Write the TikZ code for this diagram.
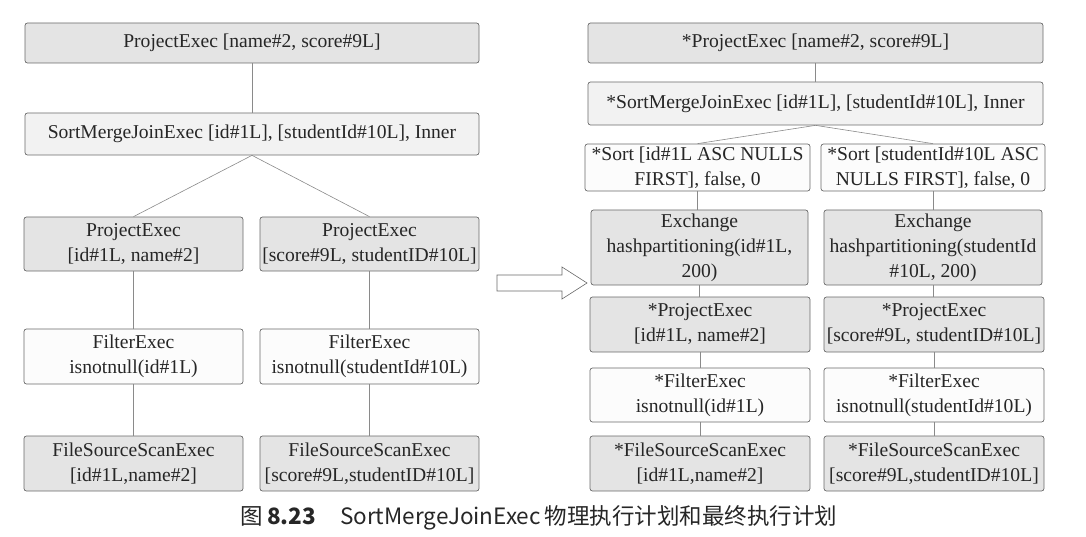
\documentclass[tikz,border=0pt]{standalone}
\usepackage{fontspec}
\setmainfont{Liberation Serif}
\newfontfamily\cjk{Noto Sans CJK SC}
\definecolor{boxdark}{HTML}{E4E4E4}
\definecolor{boxlight}{HTML}{F2F2F2}
\definecolor{boxwhite}{HTML}{FCFCFC}
\definecolor{edge}{HTML}{6A6A6A}
\definecolor{link}{HTML}{8A8A8A}
\begin{document}
\begin{tikzpicture}[x=1pt,y=-1pt,
  plan/.style={draw=edge,line width=0.7pt,rounded corners=2.5pt,inner sep=0pt,
    align=center,font=\fontsize{19.6}{25}\selectfont,text=black!85},
  dark/.style={plan,fill=boxdark},
  light/.style={plan,fill=boxlight},
  white/.style={plan,fill=boxwhite},
  link/.style={draw=link,line width=0.6pt}]
\useasboundingbox (0,0) rectangle (1086,537);
% ---- left plan ----
\node[dark,minimum width=454,minimum height=40] (L1) at (252,43) {ProjectExec [name\#2, score\#9L]};
\node[light,minimum width=454,minimum height=42] (L2) at (252,134) {SortMergeJoinExec [id\#1L], [studentId\#10L], Inner};
\node[dark,minimum width=219,minimum height=54] (L3) at (133.5,244) {ProjectExec\\{[}id\#1L, name\#2]};
\node[dark,minimum width=219,minimum height=54] (L4) at (369.5,244) {ProjectExec\\{[}score\#9L, studentID\#10L]};
\node[white,minimum width=219,minimum height=55] (L5) at (133.5,356.5) {FilterExec\\isnotnull(id\#1L)};
\node[white,minimum width=219,minimum height=55] (L6) at (369.5,356.5) {FilterExec\\isnotnull(studentId\#10L)};
\node[dark,minimum width=219,minimum height=55] (L7) at (133.5,463.5) {FileSourceScanExec\\{[}id\#1L,name\#2]};
\node[dark,minimum width=219,minimum height=55] (L8) at (369.5,463.5) {FileSourceScanExec\\{[}score\#9L,studentID\#10L]};
\draw[link] (L1.south) -- (L2.north);
\draw[link] (L2.south) -- (L3.north);
\draw[link] (L2.south) -- (L4.north);
\draw[link] (L3) -- (L5);
\draw[link] (L5) -- (L7);
\draw[link] (L4) -- (L6);
\draw[link] (L6) -- (L8);
% ---- arrow ----
\draw[draw=edge,line width=0.6pt,fill=white,line join=miter]
  (497,275) -- (562,275) -- (562,267) -- (587,283) -- (562,299) -- (562,291) -- (497,291) -- cycle;
% ---- right plan ----
\node[dark,minimum width=455,minimum height=40] (R1) at (815.5,43) {*ProjectExec [name\#2, score\#9L]};
\node[light,minimum width=455,minimum height=43] (R2) at (815.5,103.5) {*SortMergeJoinExec [id\#1L], [studentId\#10L], Inner};
\node[white,minimum width=225,minimum height=47] (R3) at (697.5,167.5) {*Sort [id\#1L ASC NULLS\\FIRST], false, 0};
\node[white,minimum width=224,minimum height=47] (R4) at (933,167.5) {*Sort [studentId\#10L ASC\\NULLS FIRST], false, 0};
\node[dark,minimum width=217,minimum height=75] (R5) at (699.5,247.5) {Exchange\\hashpartitioning(id\#1L,\\200)};
\node[dark,minimum width=218,minimum height=75] (R6) at (933,247.5) {Exchange\\hashpartitioning(studentId\\\#10L, 200)};
\node[dark,minimum width=220,minimum height=55] (R7) at (700,324.5) {*ProjectExec\\{[}id\#1L, name\#2]};
\node[dark,minimum width=220,minimum height=55] (R8) at (934,324.5) {*ProjectExec\\{[}score\#9L, studentID\#10L]};
\node[white,minimum width=220,minimum height=54] (R9) at (700,395) {*FilterExec\\isnotnull(id\#1L)};
\node[white,minimum width=220,minimum height=54] (R10) at (934,395) {*FilterExec\\isnotnull(studentId\#10L)};
\node[dark,minimum width=220,minimum height=55] (R11) at (700,463.5) {*FileSourceScanExec\\{[}id\#1L,name\#2]};
\node[dark,minimum width=220,minimum height=55] (R12) at (934,463.5) {*FileSourceScanExec\\{[}score\#9L,studentID\#10L]};
\draw[link] (R1.south) -- (R2.north);
\draw[link] (R2.south) -- (R3.north);
\draw[link] (R2.south) -- (R4.north);
\draw[link] (R3.south) -- (R3.south |- R5.north);
\draw[link] (R5.south) -- (R5.south |- R7.north);
\draw[link] (R7.south) -- (R7.south |- R9.north);
\draw[link] (R9.south) -- (R9.south |- R11.north);
\draw[link] (R4.south) -- (R4.south |- R6.north);
\draw[link] (R6.south) -- (R6.south |- R8.north);
\draw[link] (R8.south) -- (R8.south |- R10.north);
\draw[link] (R10.south) -- (R10.south |- R12.north);
% ---- caption ----
\node[font=\cjk\fontsize{22.5}{26}\selectfont,text=black!85,inner sep=0pt] (cap) at (539,518)
  {图\,\textbf{8.23}\hspace{24pt}SortMergeJoinExec\,物理执行计划和最终执行计划};
\end{tikzpicture}
\end{document}
